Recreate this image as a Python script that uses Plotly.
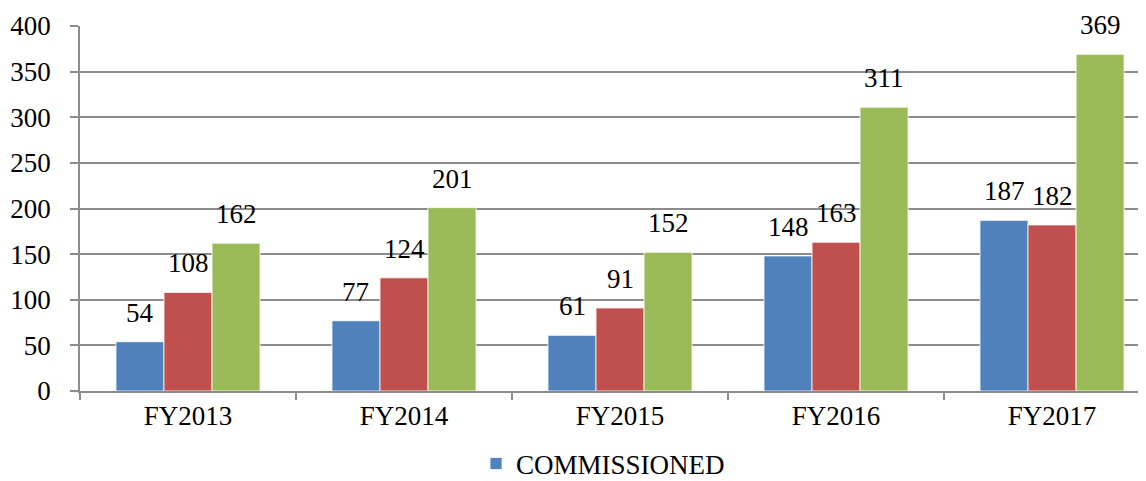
import plotly.graph_objects as go

categories = ["FY2013", "FY2014", "FY2015", "FY2016", "FY2017"]
commissioned = [54, 77, 61, 148, 187]
series_b = [108, 124, 91, 163, 182]
series_c = [162, 201, 152, 311, 369]

names = ["COMMISSIONED", "Series 2", "Series 3"]
values = [commissioned, series_b, series_c]
colors = ["#4F81BD", "#C0504D", "#9BBB59"]
show = [True, False, False]

FONT = "Liberation Serif, Times New Roman, serif"
FS = 27
BARGAP = 0.333

fig = go.Figure()
for name, vals, col, sl in zip(names, values, colors, show):
    fig.add_trace(go.Bar(
        x=categories, y=vals, name=name, showlegend=sl,
        marker=dict(color=col, line=dict(color="rgba(255,255,255,0.8)", width=1)),
    ))

# value labels above bars
ann = []
nser = len(values)
w = (1 - BARGAP) / nser
for si, vals in enumerate(values):
    off = (si - (nser - 1) / 2) * w
    for ci, v in enumerate(vals):
        ann.append(dict(x=ci + off, y=v, xref="x", yref="y", text=str(v),
                        showarrow=False, yanchor="bottom", yshift=12,
                        font=dict(family=FONT, size=FS, color="black")))

fig.update_layout(
    width=1146, height=481,
    margin=dict(l=72, r=0, t=18, b=91),
    paper_bgcolor="white", plot_bgcolor="white",
    barmode="group", bargap=BARGAP, bargroupgap=0,
    font=dict(family=FONT, size=FS, color="black"),
    annotations=ann,
    legend=dict(orientation="h", x=0.487, xanchor="center", y=-0.2, yanchor="middle",
                font=dict(family=FONT, size=FS), itemwidth=30, traceorder="normal"),
    xaxis=dict(type="category", range=[-0.5, 4.472], showline=True, linecolor="#8C8C8C",
               linewidth=1.5, ticks="outside", tickson="boundaries", ticklen=7,
               tickcolor="#8C8C8C", tickwidth=1.5, showgrid=False,
               tickfont=dict(family=FONT, size=FS)),
    yaxis=dict(range=[0, 400], dtick=50, showgrid=True, gridcolor="#8C8C8C", gridwidth=1.5,
               showline=True, linecolor="#8C8C8C", linewidth=1.5, ticks="outside",
               ticklen=8, tickcolor="#8C8C8C", tickwidth=1.5, zeroline=False,
               tickfont=dict(family=FONT, size=FS), ticklabelstandoff=14),
)

fig.write_html("out.html")
